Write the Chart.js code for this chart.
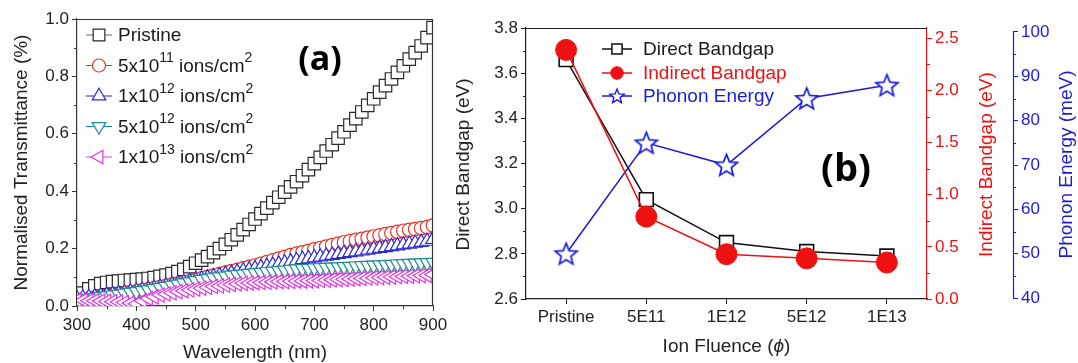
<!DOCTYPE html>
<html><head><meta charset="utf-8">
<script src="https://cdn.jsdelivr.net/npm/chart.js@4.4.1/dist/chart.umd.min.js"></script>
<style>
html,body{margin:0;padding:0;background:#fff;}
#wrap{position:relative;width:1078px;height:363px;overflow:hidden;background:#fff;}
#chartA{position:absolute;left:0;top:0;}
#chartB{position:absolute;left:440px;top:0;}
</style></head><body>
<div id="wrap">
<canvas id="chartA" width="460" height="363"></canvas>
<canvas id="chartB" width="638" height="363"></canvas>
</div>
<script>
// ---------------- DATA: panel (a) ----------------
const wavelengths = [300,310,320,330,340,350,360,370,380,390,400,410,420,430,440,450,460,470,480,490,500,510,520,530,540,550,560,570,580,590,600,610,620,630,640,650,660,670,680,690,700,710,720,730,740,750,760,770,780,790,800,810,820,830,840,850,860,870,880,890,900];
const pristine = [0.025,0.045,0.06,0.07,0.078,0.082,0.085,0.087,0.089,0.09,0.092,0.094,0.096,0.099,0.103,0.108,0.113,0.12,0.128,0.137,0.149,0.16,0.172,0.186,0.2,0.215,0.231,0.248,0.266,0.284,0.303,0.322,0.341,0.36,0.379,0.397,0.415,0.433,0.454,0.475,0.496,0.518,0.54,0.562,0.585,0.607,0.63,0.653,0.676,0.699,0.722,0.745,0.768,0.791,0.814,0.837,0.86,0.883,0.906,0.935,0.97];
const fluence5e11 = [0.02,0.023,0.026,0.029,0.032,0.035,0.038,0.041,0.044,0.047,0.05,0.054,0.058,0.062,0.066,0.07,0.074,0.078,0.082,0.086,0.091,0.096,0.101,0.106,0.111,0.116,0.121,0.126,0.131,0.136,0.141,0.147,0.153,0.159,0.165,0.171,0.177,0.182,0.187,0.192,0.197,0.202,0.207,0.212,0.217,0.222,0.226,0.23,0.234,0.238,0.242,0.246,0.25,0.254,0.258,0.262,0.265,0.268,0.271,0.275,0.281];
const fluence1e12 = [0.025,0.028,0.03,0.032,0.035,0.038,0.04,0.043,0.046,0.049,0.052,0.055,0.058,0.062,0.066,0.07,0.074,0.078,0.082,0.086,0.09,0.094,0.098,0.102,0.106,0.11,0.114,0.118,0.122,0.126,0.13,0.134,0.138,0.142,0.146,0.15,0.154,0.158,0.162,0.165,0.168,0.171,0.174,0.177,0.18,0.183,0.186,0.189,0.192,0.195,0.198,0.201,0.204,0.207,0.21,0.213,0.216,0.219,0.222,0.226,0.232];
const fluence5e12 = [0.02,0.023,0.026,0.029,0.032,0.035,0.038,0.041,0.044,0.047,0.05,0.053,0.056,0.06,0.064,0.068,0.072,0.076,0.08,0.084,0.088,0.092,0.095,0.098,0.101,0.104,0.107,0.109,0.111,0.113,0.115,0.117,0.119,0.121,0.123,0.125,0.127,0.129,0.13,0.131,0.132,0.133,0.134,0.135,0.136,0.137,0.138,0.139,0.14,0.141,0.142,0.143,0.144,0.145,0.146,0.147,0.148,0.149,0.15,0.151,0.152];
const fluence1e13 = [0.02,0.02,0.018,0.018,0.017,0.016,0.015,0.014,0.012,0.01,0.008,0.018,0.026,0.032,0.038,0.042,0.046,0.05,0.053,0.056,0.059,0.062,0.065,0.068,0.07,0.073,0.075,0.077,0.079,0.08,0.081,0.082,0.083,0.084,0.085,0.085,0.086,0.087,0.087,0.088,0.088,0.089,0.09,0.091,0.092,0.093,0.094,0.095,0.096,0.097,0.098,0.099,0.1,0.101,0.102,0.103,0.104,0.105,0.106,0.107,0.11];
const wlTicks = [300,400,500,600,700,800,900];
const wlMinor = [350,450,550,650,750,850];
const trTicks = [0,0.2,0.4,0.6,0.8,1.0];
const trMinor = [0.1,0.3,0.5,0.7,0.9];
const legendA = [["Pristine"],["5x10","11"," ions/cm","2"],["1x10","12"," ions/cm","2"],["5x10","12"," ions/cm","2"],["1x10","13"," ions/cm","2"]];

// ---------------- DATA: panel (b) ----------------
const fluenceLabels = ["Pristine","5E11","1E12","5E12","1E13"];
const directGap = [3.66,3.04,2.85,2.81,2.79];
const indirectGap = [2.39,0.79,0.43,0.39,0.35];
const phononEnergy = [50,75,70,85,88];
const dirTicks = [2.6,2.8,3.0,3.2,3.4,3.6,3.8];
const dirMinor = [2.7,2.9,3.1,3.3,3.5,3.7];
const indTicks = [0,0.5,1.0,1.5,2.0,2.5];
const indMinor = [0.25,0.75,1.25,1.75,2.25];
const phTicks = [40,50,60,70,80,90,100];
const phMinor = [45,55,65,75,85,95];
const legendB = ["Direct Bandgap","Indirect Bandgap","Phonon Energy"];

// ---------------- STYLE ----------------
const FONT = '"Liberation Sans", Arial, Helvetica, sans-serif';
Chart.defaults.font.family = FONT;
Chart.defaults.color = '#222';
const TICKSIZE = 17;
const C = {gray:'#2a2a2a', grayLine:'#666', red:'#e8322b', blue:'#2b2bd2', teal:'#1f8c8c', mag:'#e236e2'};
const CB = {black:'#111', red:'#ee1111', blue:'#1c1cd8'};

function starImg(R, color, lw){
  const s = Math.ceil(R*2 + lw*2 + 2);
  const c = document.createElement('canvas'); c.width = s; c.height = s;
  const g = c.getContext('2d'); const cx = s/2, cy = s/2 + R*0.08, r = R*0.44;
  g.beginPath();
  for (let k=0;k<10;k++){ const a=-Math.PI/2 + k*Math.PI/5; const rr = k%2 ? r : R; g.lineTo(cx+rr*Math.cos(a), cy+rr*Math.sin(a)); }
  g.closePath(); g.fillStyle='#fff'; g.fill(); g.strokeStyle=color; g.lineWidth=lw; g.lineJoin='miter'; g.stroke();
  return c;
}
const starBig = starImg(11.5, CB.blue, 1.7);
const starSmall = starImg(7.5, CB.blue, 1.4);

function pts(xs, ys){ return xs.map((x,i)=>({x:x, y:ys[i]})); }

function minorTicks(ctx, scale, values, len, color, side){
  ctx.save(); ctx.strokeStyle=color; ctx.lineWidth=1;
  values.forEach(v=>{
    const p = Math.round(scale.getPixelForValue(v)) + 0.5;
    ctx.beginPath();
    if (side==='bottom'){ ctx.moveTo(p, scale.top); ctx.lineTo(p, scale.top+len); }
    else if (side==='left'){ ctx.moveTo(scale.right, p); ctx.lineTo(scale.right-len, p); }
    else { ctx.moveTo(scale.left, p); ctx.lineTo(scale.left+len, p); }
    ctx.stroke();
  });
  ctx.restore();
}
function rtext(ctx, text, x, y, font, color, angle){
  ctx.save(); ctx.translate(x,y); ctx.rotate(angle); ctx.font=font; ctx.fillStyle=color;
  ctx.textAlign='center'; ctx.textBaseline='middle'; ctx.fillText(text,0,0); ctx.restore();
}
function marker(ctx, style, radius, rotation, stroke, fill, bw, x, y){
  ctx.save(); ctx.strokeStyle=stroke; ctx.fillStyle=fill; ctx.lineWidth=bw;
  Chart.helpers.drawPoint(ctx, {pointStyle:style, radius:radius, rotation:rotation, borderWidth:bw}, x, y);
  ctx.restore();
}

// ---------------- CHART A ----------------
const seriesA = [
  {label:'Pristine', vals:pristine, line:C.grayLine, col:C.gray, style:'rect', r:8.8, rot:0},
  {label:'5e11', vals:fluence5e11, line:C.red, col:C.red, style:'circle', r:6.8, rot:0},
  {label:'1e12', vals:fluence1e12, line:C.blue, col:C.blue, style:'triangle', r:8.2, rot:0},
  {label:'5e12', vals:fluence5e12, line:C.teal, col:C.teal, style:'triangle', r:8.2, rot:180},
  {label:'1e13', vals:fluence1e13, line:C.mag, col:C.mag, style:'triangle', r:8.2, rot:270}
];

const plugA = {
  id:'plugA',
  afterDraw(chart){
    const ctx = chart.ctx, ca = chart.chartArea, sx = chart.scales.x, sy = chart.scales.y;
    ctx.save();
    ctx.strokeStyle='#333'; ctx.lineWidth=1.2;
    ctx.beginPath(); ctx.moveTo(ca.left, ca.top+0.5); ctx.lineTo(ca.right-0.5, ca.top+0.5); ctx.lineTo(ca.right-0.5, ca.bottom); ctx.stroke();
    minorTicks(ctx, sx, wlMinor, 3, '#333', 'bottom');
    minorTicks(ctx, sy, trMinor, 3, '#333', 'left');
    rtext(ctx, 'Normalised Transmittance (%)', 22, (ca.top+ca.bottom)/2, '19px '+FONT, '#222', -Math.PI/2);
    rtext(ctx, 'Wavelength (nm)', (ca.left+ca.right)/2, 353, '19px '+FONT, '#222', 0);
    const y0 = 35, dy = 30.5;
    seriesA.forEach((s,i)=>{
      const y = y0 + i*dy;
      ctx.strokeStyle = s.line; ctx.lineWidth=1;
      ctx.beginPath(); ctx.moveTo(86, y); ctx.lineTo(112, y); ctx.stroke();
      const lr = s.style==='rect' ? 8.3 : (s.style==='circle' ? 6.5 : 7.8);
      marker(ctx, s.style, lr, s.rot, s.col, '#fff', 1.2, 99, y);
      let x = 118;
      ctx.fillStyle = '#1a1a1a'; ctx.textBaseline='middle'; ctx.textAlign='left';
      legendA[i].forEach((part,k)=>{
        if (k%2===0){ ctx.font='19px '+FONT; ctx.fillText(part, x, y+1); }
        else { ctx.font='14px '+FONT; ctx.fillText(part, x, y-7); }
        x += ctx.measureText(part).width;
      });
    });
    ctx.fillStyle='#000'; ctx.font='bold 34px "Open Sans", "Lato", sans-serif'; ctx.textAlign='center'; ctx.textBaseline='middle';
    ctx.fillText('(a)', 320, 60);
    ctx.restore();
  }
};

new Chart(document.getElementById('chartA'), {
  type:'line',
  data:{ datasets: seriesA.map((s,i)=>({
    label:s.label, data:pts(wavelengths, s.vals), borderColor:s.line, borderWidth:1,
    pointStyle:s.style, pointRadius:s.r, pointRotation:s.rot, pointBorderColor:s.col,
    pointBackgroundColor:'#fff', pointBorderWidth:1.2, order:4-i, tension:0
  }))},
  options:{
    responsive:false, animation:false, devicePixelRatio:1,
    layout:{padding:{top:19,right:27,left:0,bottom:0}},
    plugins:{legend:{display:false}, tooltip:{enabled:false}},
    scales:{
      x:{type:'linear', min:300, max:900, afterFit(s){ s.height=57; s.paddingRight=0; s.paddingLeft=0; },
         afterBuildTicks(s){ s.ticks = wlTicks.map(v=>({value:v})); },
         ticks:{font:{size:TICKSIZE}, color:'#222', padding:4, maxRotation:0, autoSkip:false},
         grid:{drawOnChartArea:false, tickLength:5, color:'#333'}, border:{color:'#333', width:1.2}},
      y:{min:0, max:1, afterFit(s){ s.width=77; },
         afterBuildTicks(s){ s.ticks = trTicks.map(v=>({value:v})); },
         ticks:{font:{size:TICKSIZE}, color:'#222', padding:3, callback:v=>Number(v).toFixed(1)},
         grid:{drawOnChartArea:false, tickLength:5, color:'#333'}, border:{color:'#333', width:1.2}}
    }
  },
  plugins:[plugA]
});

// ---------------- CHART B ----------------
const plugB = {
  id:'plugB',
  afterDraw(chart){
    const ctx = chart.ctx, ca = chart.chartArea, sx = chart.scales.x, sy = chart.scales.y, sr = chart.scales.yR, sb = chart.scales.yB;
    ctx.save();
    ctx.strokeStyle='#222'; ctx.lineWidth=1.2;
    ctx.beginPath(); ctx.moveTo(ca.left, ca.top+0.5); ctx.lineTo(ca.right, ca.top+0.5); ctx.stroke();
    ctx.strokeStyle=CB.blue; ctx.lineWidth=1.2;
    ctx.beginPath(); ctx.moveTo(sb.left+0.5, sb.getPixelForValue(40)); ctx.lineTo(sb.left+0.5, sb.getPixelForValue(100)); ctx.stroke();
    minorTicks(ctx, sy, dirMinor, 3, '#222', 'left');
    minorTicks(ctx, sr, indMinor, 3, CB.red, 'right');
    minorTicks(ctx, sb, phMinor, 3, CB.blue, 'right');
    const cy = (ca.top+ca.bottom)/2 + 1;
    rtext(ctx, 'Direct Bandgap (eV)', 24, cy, '19px '+FONT, '#222', -Math.PI/2);
    rtext(ctx, 'Indirect Bandgap (eV)', 547, cy, '19px '+FONT, CB.red, -Math.PI/2);
    rtext(ctx, 'Phonon Energy (meV)', 627, cy, '19px '+FONT, CB.blue, -Math.PI/2);
    const parts = [['Ion Fluence (', '19px '+FONT], ['\u03D5', 'italic 19px '+FONT], [')', '19px '+FONT]];
    let w = 0; parts.forEach(p=>{ ctx.font=p[1]; w += ctx.measureText(p[0]).width; });
    let x = (ca.left+ca.right)/2 - w/2;
    ctx.fillStyle='#222'; ctx.textBaseline='middle'; ctx.textAlign='left';
    parts.forEach(p=>{ ctx.font=p[1]; ctx.fillText(p[0], x, 347); x += ctx.measureText(p[0]).width; });
    const ly = [49, 73, 96];
    const lc = [CB.black, CB.red, CB.blue];
    lc.forEach((c,i)=>{
      ctx.strokeStyle=c; ctx.lineWidth=1.5;
      ctx.beginPath(); ctx.moveTo(162, ly[i]); ctx.lineTo(192, ly[i]); ctx.stroke();
    });
    marker(ctx, 'rect', 7.2, 0, CB.black, '#fff', 1.5, 177, ly[0]);
    marker(ctx, 'circle', 6.3, 0, CB.red, CB.red, 1, 177, ly[1]);
    ctx.drawImage(starSmall, 177 - starSmall.width/2, ly[2] - starSmall.height/2);
    ctx.font='19px '+FONT; ctx.textAlign='left'; ctx.textBaseline='middle';
    legendB.forEach((t,i)=>{ ctx.fillStyle = i===0 ? '#1a1a1a' : lc[i]; ctx.fillText(t, 203, ly[i]+1); });
    ctx.fillStyle='#000'; ctx.font='bold 38px "Open Sans", "Lato", sans-serif'; ctx.textAlign='center'; ctx.textBaseline='middle';
    ctx.fillText('(b)', 406, 170);
    ctx.restore();
  }
};

new Chart(document.getElementById('chartB'), {
  type:'line',
  data:{ labels: fluenceLabels, datasets:[
    {label:legendB[0], data:directGap, yAxisID:'y', borderColor:CB.black, borderWidth:1.5, pointStyle:'rect', pointRadius:9.8, pointBorderColor:CB.black, pointBackgroundColor:'#fff', pointBorderWidth:1.6, order:2},
    {label:legendB[1], data:indirectGap, yAxisID:'yR', borderColor:CB.red, borderWidth:1.5, pointStyle:'circle', pointRadius:10.5, pointBorderColor:CB.red, pointBackgroundColor:CB.red, pointBorderWidth:1, order:0},
    {label:legendB[2], data:phononEnergy, yAxisID:'yB', borderColor:CB.blue, borderWidth:1.5, pointStyle:starBig, pointRadius:11, order:1}
  ]},
  options:{
    responsive:false, animation:false, devicePixelRatio:1,
    layout:{padding:{top:28,right:0,left:0,bottom:0}},
    plugins:{legend:{display:false}, tooltip:{enabled:false}},
    scales:{
      x:{type:'category', offset:true, afterFit(s){ s.height=64; },
         ticks:{font:{size:TICKSIZE}, color:'#222', padding:3, maxRotation:0, autoSkip:false},
         grid:{drawOnChartArea:false, tickLength:5, color:'#222', offset:false}, border:{color:'#222', width:1.2}},
      y:{position:'left', min:2.6, max:3.8, afterFit(s){ s.width=86; },
         afterBuildTicks(s){ s.ticks = dirTicks.map(v=>({value:v})); },
         ticks:{font:{size:TICKSIZE}, color:'#222', padding:3, callback:v=>Number(v).toFixed(1)},
         grid:{drawOnChartArea:false, tickLength:5, color:'#222'}, border:{color:'#222', width:1.2}},
      yR:{position:'right', min:0, max:2.6, afterFit(s){ s.width=86; },
         afterBuildTicks(s){ s.ticks = indTicks.map(v=>({value:v})); },
         ticks:{font:{size:TICKSIZE}, color:CB.red, padding:3, callback:v=>Number(v).toFixed(1)},
         grid:{drawOnChartArea:false, tickLength:5, color:CB.red}, border:{color:CB.red, width:1.2}},
      yB:{position:'right', min:39.8, max:100.9, afterFit(s){ s.width=65; },
         afterBuildTicks(s){ s.ticks = phTicks.map(v=>({value:v})); },
         ticks:{font:{size:TICKSIZE}, color:CB.blue, padding:3, callback:v=>String(Math.round(v))},
         grid:{drawOnChartArea:false, tickLength:5, color:CB.blue}, border:{display:false}}
    }
  },
  plugins:[plugB]
});
</script>
</body></html>
